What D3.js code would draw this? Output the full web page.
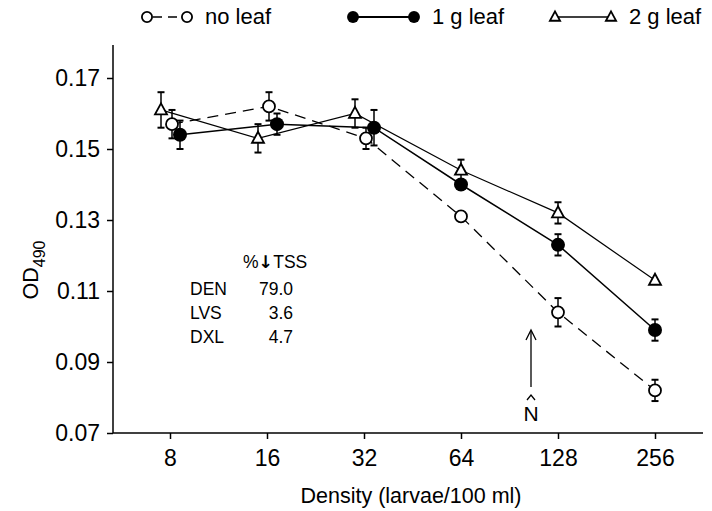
<!DOCTYPE html>
<html>
<head>
<meta charset="utf-8">
<script src="https://cdn.jsdelivr.net/npm/d3@7"></script>
<style>
  body { margin: 0; background: #fff; }
  svg { display: block; font-family: "Liberation Sans", Arial, sans-serif; }
</style>
</head>
<body>
<svg id="chart" width="712" height="511"></svg>
<script>
const densities = [8, 16, 32, 64, 128, 256];
const yTicks = [0.07, 0.09, 0.11, 0.13, 0.15, 0.17];

const noLeaf = [0.157, 0.162, 0.153, 0.131, 0.104, 0.082];
const noLeafErr = [0.004, 0.004, 0.003, 0, 0.004, 0.003];
const oneLeaf = [0.154, 0.157, 0.156, 0.140, 0.123, 0.099];
const oneLeafErr = [0.004, 0.003, 0.005, 0, 0.003, 0.003];
const twoLeaf = [0.161, 0.153, 0.160, 0.144, 0.132, 0.113];
const twoLeafErr = [0.005, 0.004, 0.004, 0.003, 0.003, 0];

const tableRows = ['DEN', 'LVS', 'DXL'];
const tableValues = ['79.0', '3.6', '4.7'];

const series = [
  { name: 'no leaf', values: noLeaf, err: noLeafErr, symbol: 'open', dash: '11,7', width: 1.3, dodge: 2 },
  { name: '1 g leaf', values: oneLeaf, err: oneLeafErr, symbol: 'filled', dash: null, width: 1.5, dodge: 10 },
  { name: '2 g leaf', values: twoLeaf, err: twoLeafErr, symbol: 'triangle', dash: null, width: 1.2, dodge: -9 }
];

const svg = d3.select('#chart');
const x0 = 113, yBottom = 433;

const x = d3.scaleLog().base(2).domain([8, 256]).range([170, 655]);
const y = d3.scaleLinear().domain([0.07, 0.17]).range([433, 78]);

// dodge points apart only in the crowded low-density region
const px = (s, i) => x(densities[i]) + (densities[i] <= 32 ? s.dodge : 0);

// axes
const yAxis = svg.append('g')
  .attr('transform', `translate(${x0},0)`)
  .call(d3.axisLeft(y).tickValues(yTicks).tickFormat(d3.format('.2f')).tickSize(6).tickPadding(7));
yAxis.select('.domain').remove();
yAxis.selectAll('text').attr('font-size', 23).attr('fill', '#000');
yAxis.selectAll('line').attr('stroke', '#000').attr('stroke-width', 1.5);

const xAxis = svg.append('g')
  .attr('transform', `translate(0,${yBottom})`)
  .call(d3.axisBottom(x).tickValues(densities).tickFormat(d3.format('d')).tickSize(6).tickPadding(11));
xAxis.select('.domain').remove();
xAxis.selectAll('text').attr('font-size', 23).attr('fill', '#000');
xAxis.selectAll('line').attr('stroke', '#000').attr('stroke-width', 1.5);

svg.append('line').attr('x1', x0).attr('x2', x0).attr('y1', 45).attr('y2', yBottom)
  .attr('stroke', '#000').attr('stroke-width', 1.5);
svg.append('line').attr('x1', x0).attr('x2', 703).attr('y1', yBottom).attr('y2', yBottom)
  .attr('stroke', '#000').attr('stroke-width', 1.5);

// axis titles
svg.append('text')
  .attr('x', 411).attr('y', 503)
  .attr('text-anchor', 'middle').attr('font-size', 21.5)
  .text('Density (larvae/100 ml)');

const yTitle = svg.append('text')
  .attr('transform', 'translate(38,270) rotate(-90)')
  .attr('text-anchor', 'middle').attr('font-size', 21.5);
yTitle.append('tspan').text('OD');
yTitle.append('tspan').attr('dy', 7).attr('font-size', 16).text('490');

// marker drawing
const drawSymbol = (g, kind, cx, cy, scale = 1) => {
  if (kind === 'open') {
    g.append('circle').attr('cx', cx).attr('cy', cy).attr('r', 6 * scale)
      .attr('fill', '#fff').attr('stroke', '#000').attr('stroke-width', 1.8);
  } else if (kind === 'filled') {
    g.append('circle').attr('cx', cx).attr('cy', cy).attr('r', 7 * scale)
      .attr('fill', '#000');
  } else {
    const h = 11 * scale, w = 12 * scale;
    g.append('path')
      .attr('d', `M${cx},${cy - h * 0.6}L${cx + w / 2},${cy + h * 0.4}L${cx - w / 2},${cy + h * 0.4}Z`)
      .attr('fill', '#fff').attr('stroke', '#000').attr('stroke-width', 1.8);
  }
};

const line = d3.line();

series.forEach(s => {
  const g = svg.append('g');
  const pts = s.values.map((v, i) => [px(s, i), y(v)]);
  g.append('path')
    .attr('d', line(pts))
    .attr('fill', 'none').attr('stroke', '#000')
    .attr('stroke-width', s.width)
    .attr('stroke-dasharray', s.dash);

  // error bars
  s.values.forEach((v, i) => {
    const e = s.err[i];
    if (!e) return;
    const cx = px(s, i);
    [v + e, v - e].forEach(end => {
      g.append('line').attr('x1', cx).attr('x2', cx).attr('y1', y(v)).attr('y2', y(end))
        .attr('stroke', '#000').attr('stroke-width', 1.5);
      g.append('line').attr('x1', cx - 3.5).attr('x2', cx + 3.5).attr('y1', y(end)).attr('y2', y(end))
        .attr('stroke', '#000').attr('stroke-width', 2);
    });
  });

  s.values.forEach((v, i) => drawSymbol(g, s.symbol, px(s, i), y(v)));
});

// legend
const legendX = [147, 353, 555];
const legendGap = [40, 61, 56];
series.forEach((s, k) => {
  const g = svg.append('g');
  const lx = legendX[k], ly = 17;
  g.append('line').attr('x1', lx).attr('x2', lx + legendGap[k]).attr('y1', ly).attr('y2', ly)
    .attr('stroke', '#000').attr('stroke-width', s.width + 0.3)
    .attr('stroke-dasharray', s.dash ? '9,6' : null)
    .attr('stroke-dashoffset', s.dash ? -6 : null);
  drawSymbol(g, s.symbol, lx, ly, 0.85);
  drawSymbol(g, s.symbol, lx + legendGap[k], ly, 0.85);
  g.append('text').attr('x', lx + legendGap[k] + 18).attr('y', ly + 7)
    .attr('font-size', 22).text(s.name);
});

// %↓TSS table
const head = svg.append('text').attr('x', 243).attr('y', 268).attr('font-size', 17.5).attr('fill', '#000');
head.append('tspan').text('%');
head.append('tspan').attr('font-family', 'DejaVu Sans').attr('font-weight', 'bold').attr('fill', '#000').text('\u2193');
head.append('tspan').text('TSS');
tableRows.forEach((r, i) => {
  svg.append('text').attr('x', 190).attr('y', 295 + i * 24).attr('font-size', 17.5).text(r);
  svg.append('text').attr('x', 293).attr('y', 295 + i * 24).attr('font-size', 17.5)
    .attr('text-anchor', 'end').text(tableValues[i]);
});

// N-hat arrow
const ax = 531;
svg.append('line').attr('x1', ax).attr('x2', ax).attr('y1', 387).attr('y2', 331)
  .attr('stroke', '#000').attr('stroke-width', 1.3);
svg.append('path').attr('d', `M${ax - 5},${340}L${ax},${330}L${ax + 5},${340}`)
  .attr('fill', 'none').attr('stroke', '#000').attr('stroke-width', 1.3);
svg.append('text').attr('x', ax).attr('y', 421).attr('text-anchor', 'middle')
  .attr('font-size', 21).text('N');
svg.append('path').attr('d', `M${ax - 4},${400}L${ax},${395}L${ax + 4},${400}`)
  .attr('fill', 'none').attr('stroke', '#000').attr('stroke-width', 1.3);
</script>
</body>
</html>
